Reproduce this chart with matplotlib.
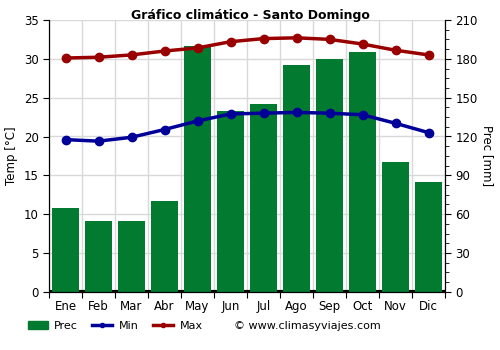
import matplotlib
matplotlib.use('Agg')
import matplotlib.pyplot as plt
from matplotlib.ticker import AutoMinorLocator
from matplotlib.patches import Patch
from matplotlib.lines import Line2D
import numpy as np

months = ['Ene', 'Feb', 'Mar', 'Abr', 'May', 'Jun', 'Jul', 'Ago', 'Sep', 'Oct', 'Nov', 'Dic']
prec = [65, 55, 55, 70, 190, 140, 145, 175, 180, 185, 100, 85]
t_min = [19.6, 19.4, 19.9, 20.9, 22.0, 22.9, 23.0, 23.1, 23.0, 22.8, 21.7, 20.5]
t_max = [30.1, 30.2, 30.5, 31.0, 31.4, 32.2, 32.6, 32.7, 32.5, 31.9, 31.1, 30.5]

green = '#027a30'
blue = '#000099'
red = '#990000'

fig = plt.figure(figsize=(5, 3.5), dpi=100)
ax = fig.add_axes([0.098, 0.166, 0.792, 0.777])
ax2 = ax.twinx()
x = np.arange(len(months))

# precipitation bars (right axis)
ax.bar(x, prec, width=0.8, color=green, zorder=2)
ax.axhline(0, color='black', lw=3, zorder=1.5)
ax.set_ylim(0, 210)
ax.set_xlim(-0.5, 11.5)
ax.yaxis.tick_right()
ax.yaxis.set_label_position('right')
ax.set_yticks(range(0, 211, 30))
ax.yaxis.set_minor_locator(AutoMinorLocator(4))
ax.set_ylabel('Prec [mm]', rotation=-90, labelpad=12, fontsize=8.5)
ax.set_xticks(np.arange(-0.5, 12, 1))
ax.set_xticklabels([])
ax.set_xticks(x, minor=True)
ax.set_xticklabels(months, minor=True, fontsize=8.5)
ax.tick_params(axis='x', which='minor', length=0, pad=6)
ax.tick_params(axis='x', which='major', length=4, color='black')
ax.tick_params(axis='y', which='both', labelsize=8.5, length=4)
ax.tick_params(axis='y', which='minor', length=3)
ax.grid(True, which='major', color='#d9d9d9', lw=1, zorder=0)
ax.set_axisbelow(True)
ax.spines['top'].set_visible(False)

# temperature lines (left axis)
ax2.plot(x, t_min, color=blue, lw=2.5, marker='o', ms=6, zorder=3)
ax2.plot(x, t_max, color=red, lw=2.5, marker='o', ms=6, zorder=3)
ax2.set_ylim(0, 35)
ax2.yaxis.tick_left()
ax2.yaxis.set_label_position('left')
ax2.set_yticks(range(0, 36, 5))
ax2.set_ylabel('Temp [°C]', fontsize=8.5)
ax2.tick_params(axis='y', labelsize=8.5, length=4)
ax2.spines['top'].set_visible(False)

fig.text(0.5, 0.957, 'Gráfico climático - Santo Domingo', ha='center',
         va='center', fontsize=9, fontweight='bold')

handles = [Patch(color=green, label='Prec'),
           Line2D([0], [0], color=blue, lw=2.5, marker='o', ms=3, label='Min'),
           Line2D([0], [0], color=red, lw=2.5, marker='o', ms=3, label='Max')]
fig.legend(handles=handles, loc='center left', bbox_to_anchor=(0.035, 0.068),
           ncol=3, frameon=False, fontsize=8, handlelength=1.8,
           handletextpad=0.6, columnspacing=1.3)
fig.text(0.468, 0.068, '© www.climasyviajes.com', fontsize=8, va='center')

fig.savefig('out.png', dpi=100)
